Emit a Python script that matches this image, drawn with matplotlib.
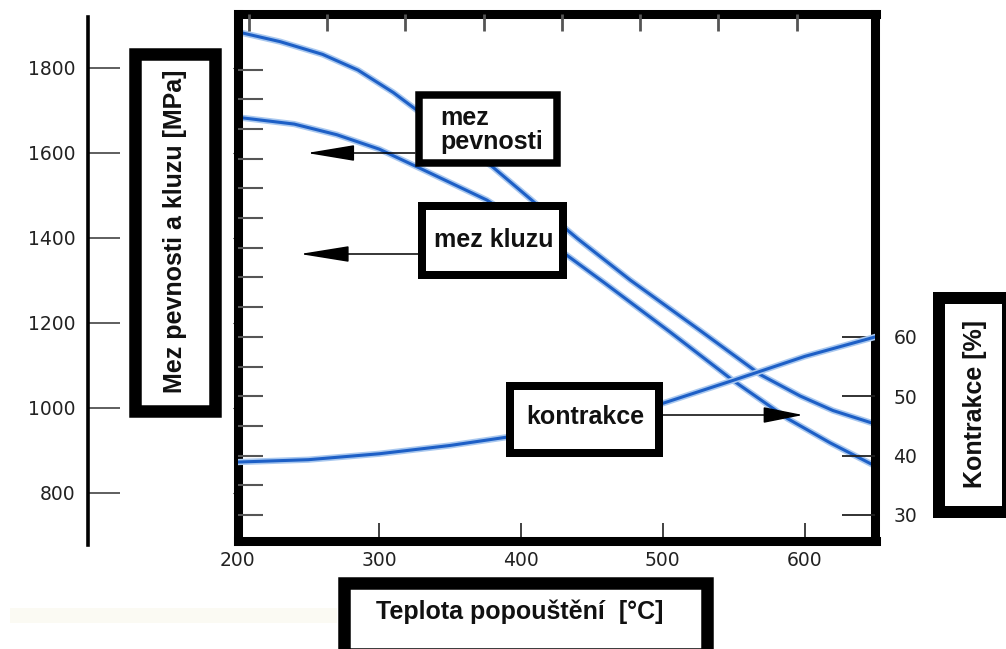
import numpy as np
import matplotlib
matplotlib.use("Agg")
import matplotlib.pyplot as plt
from matplotlib.patches import Rectangle

# data
teplota_pev = [200, 230, 260, 285, 310, 340, 380, 410, 440, 477, 526, 569, 597, 620, 650]
mez_pevnosti = [1885, 1862, 1832, 1795, 1742, 1667, 1567, 1482, 1398, 1301, 1183, 1078, 1028, 994, 962]

teplota_kluz = [200, 240, 270, 300, 330, 376, 403, 430, 459, 505, 549, 588, 618, 650]
mez_kluzu = [1684, 1668, 1643, 1609, 1562, 1489, 1430, 1365, 1294, 1179, 1066, 975, 918, 863]

teplota_kon = [200, 250, 300, 350, 390, 500, 550, 600, 650]
kontrakce = [38.9, 39.3, 40.3, 41.7, 43.1, 48.8, 52.7, 56.7, 60.0]

x_ticks = [200, 300, 400, 500, 600]
mpa_ticks = [800, 1000, 1200, 1400, 1600, 1800]
kon_ticks = [30, 40, 50, 60]

W, H = 1006, 649
BLUE = '#1d5fc6'
HALO = '#a9c8ef'
TXT = dict(family='Liberation Sans', weight='bold', size=18, color='#111')


def fx(x):
    return x / W


def fy(y):
    return 1 - y / H


def box(x0, y0, x1, y1, t):
    # outer edges in pixels, border thickness t px
    fig.add_artist(Rectangle((fx(x0 + t / 2), fy(y1 - t / 2)),
                             (x1 - x0 - t) / W, (y1 - y0 - t) / H,
                             transform=fig.transFigure, facecolor='white',
                             edgecolor='black', linewidth=t * 0.72, zorder=2))


def arrow(x0, y, x1, hl):
    ax.annotate('', xy=(fx(x1), fy(y)), xytext=(fx(x0), fy(y)),
                xycoords='figure fraction', textcoords='figure fraction',
                arrowprops=dict(arrowstyle='-|>,head_length=%.2f,head_width=0.5' % hl,
                                mutation_scale=10, color='black', lw=1.1,
                                shrinkA=0, shrinkB=0), zorder=3)


fig = plt.figure(figsize=(W / 100, H / 100), dpi=100)

# faint strip from the scan
fig.add_artist(Rectangle((fx(10), fy(623)), 327 / W, 15 / H, transform=fig.transFigure,
                         facecolor='#fbfaf3', edgecolor='none', zorder=0))

# main box
ax = fig.add_axes([fx(237.5), fy(541), (875.5 - 237.5) / W, (541 - 14) / H])
ax.set_xlim(200, 650)
ax.set_ylim(687, 1927)
for s in ax.spines.values():
    s.set_linewidth(6.5)
ax.set_xticks(x_ticks)
ax.tick_params(axis='x', direction='in', length=13, width=1.3, color='#333',
               pad=7, labelsize=13.5, labelcolor='#222')
ax.tick_params(axis='y', left=False, labelleft=False)

ax.plot(teplota_pev, mez_pevnosti, color=HALO, lw=4.5)
ax.plot(teplota_kluz, mez_kluzu, color=HALO, lw=4.5)
ax.plot(teplota_pev, mez_pevnosti, color=BLUE, lw=2.2)
ax.plot(teplota_kluz, mez_kluzu, color=BLUE, lw=2.2)

# top inner ticks
axT = ax.twiny()
axT.set_xlim(200, 650)
axT.set_xticks(np.arange(208, 600, 55.2))
axT.tick_params(axis='x', direction='in', length=12, width=2, color='#555', labeltop=False)
for s in axT.spines.values():
    s.set_visible(False)

# contraction axis (right)
axK = ax.twinx()
axK.set_ylim(25.6, 114.4)
axK.set_yticks(kon_ticks)
axK.tick_params(axis='y', direction='in', length=24, width=1.3, color='#222',
                pad=13, labelsize=13.5, labelcolor='#222')
for s in axK.spines.values():
    s.set_visible(False)
axK.plot(teplota_kon, kontrakce, color=HALO, lw=4.5)
axK.plot(teplota_kon, kontrakce, color=BLUE, lw=2.2)

# inner ticks on the left edge of the box
axK2 = ax.twinx()
axK2.set_ylim(25.6, 114.4)
axK2.yaxis.tick_left()
axK2.set_yticks(np.arange(30, 106, 5))
axK2.tick_params(axis='y', direction='in', length=18, width=1.5, color='#555', labelleft=False)
for s in axK2.spines.values():
    s.set_visible(False)

# separate MPa axis on the far left
axL = fig.add_axes([fx(88), fy(545), 0.02, (545 - 17) / H])
axL.patch.set_visible(False)
axL.set_ylim(677.6, 1920)
for k in ['top', 'right', 'bottom']:
    axL.spines[k].set_visible(False)
axL.spines['left'].set_linewidth(2.6)
axL.set_xticks([])
axL.set_yticks(mpa_ticks)
axL.tick_params(axis='y', direction='in', length=23, width=1.1, color='#333',
                pad=9, labelsize=13.5, labelcolor='#222')

# label boxes
box(129, 48, 221, 417, 12.5)
fig.text(fx(175), fy(231), 'Mez pevnosti a kluzu [MPa]', rotation=90,
         ha='center', va='center', zorder=4, **TXT)

box(933, 292, 1014, 518, 12)
fig.text(fx(975), fy(404), 'Kontrakce [%]', rotation=90,
         ha='center', va='center', zorder=4, **TXT)

box(338, 577, 713, 660, 12.5)
fig.text(fx(520), fy(612), 'Teplota popouštění  [°C]',
         ha='center', va='center', zorder=4, **TXT)

box(415, 91, 561, 167, 7.5)
fig.text(fx(440), fy(130), 'mez\npevnosti', ha='left', va='center',
         linespacing=1.0, zorder=4, **TXT)
arrow(415, 153, 307, 3.0)

box(418, 202, 567, 279, 8)
fig.text(fx(494), fy(240), 'mez kluzu', ha='center', va='center', zorder=4, **TXT)
arrow(418, 254, 300, 3.1)

box(506, 382, 663, 457, 8)
fig.text(fx(585), fy(417), 'kontrakce', ha='center', va='center', zorder=4, **TXT)
arrow(663, 415, 803, 2.5)

fig.savefig('out.png', dpi=100)
